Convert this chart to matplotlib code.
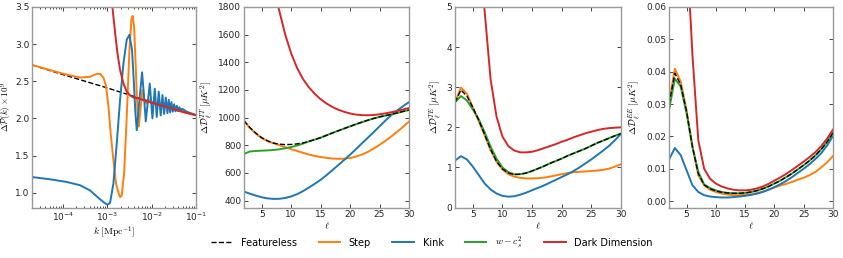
import numpy as np
import matplotlib
matplotlib.use("Agg")
import matplotlib.pyplot as plt

plt.rcParams['mathtext.fontset'] = 'cm'
plt.rcParams['font.family'] = ['DejaVu Sans']

# ---------------- Panel 1: primordial power spectrum ----------------
k_feat = [2e-5, 1e-4, 1e-3, 1e-2, 1e-1]
p_feat = [2.72, 2.59, 2.41, 2.22, 2.04]

k_step = [2e-5, 5.09e-5, 1.21e-4, 2.42e-4, 4.07e-4, 5.77e-4, 6.86e-4, 8.15e-4,
          9.35e-4, 1.06e-3, 1.19e-3, 1.37e-3, 1.57e-3, 1.81e-3, 1.95e-3, 2.11e-3,
          2.39e-3, 2.74e-3, 3.15e-3, 3.49e-3, 3.74e-3, 4.01e-3, 4.37e-3, 4.77e-3,
          5.12e-3, 5.58e-3, 6.2e-3, 6.87e-3, 7.6e-3, 8.5e-3, 1e-2, 3e-2, 1e-1]
p_step = [2.72, 2.65, 2.59, 2.55, 2.56, 2.60, 2.60, 2.55,
          2.44, 2.16, 1.80, 1.44, 1.12, 0.99, 0.94, 0.96,
          1.26, 2.02, 2.92, 3.33, 3.38, 3.24, 2.70, 2.11,
          1.89, 2.11, 2.38, 2.25, 2.20, 2.26, 2.22, 2.12, 2.04]

k_kink = [2e-5, 5.09e-5, 1.21e-4, 2.42e-4, 4.07e-4, 6.28e-4, 8.15e-4, 1.0e-3,
          1.15e-3, 1.37e-3, 1.63e-3, 1.94e-3, 2.31e-3, 2.74e-3, 3.15e-3, 3.61e-3,
          4.01e-3, 4.30e-3, 4.61e-3, 5.30e-3, 6.08e-3, 6.64e-3, 7.36e-3, 8.2e-3,
          9.06e-3, 9.7e-3, 1.04e-2, 1.105e-2, 1.175e-2, 1.24e-2, 1.30e-2, 1.445e-2,
          1.60e-2, 1.75e-2, 1.91e-2, 2.08e-2, 2.27e-2, 2.43e-2, 2.61e-2, 2.79e-2,
          2.99e-2, 3.21e-2, 3.44e-2, 3.69e-2, 3.95e-2, 4.24e-2, 4.54e-2, 4.86e-2,
          6.19e-2, 1e-1]
p_kink = [1.21, 1.18, 1.144, 1.10, 1.03, 0.93, 0.874, 0.838,
          0.86, 1.12, 1.66, 2.25, 2.74, 3.06, 3.126, 2.92,
          2.43, 2.07, 1.84, 2.25, 2.62, 2.34, 1.96, 2.22,
          2.47, 2.24, 2.00, 2.20, 2.40, 2.21, 2.02, 2.36,
          2.04, 2.315, 2.06, 2.28, 2.07, 2.25, 2.08, 2.22,
          2.09, 2.19, 2.095, 2.17, 2.10, 2.15, 2.10, 2.13,
          2.09, 2.045]

k_dd = [9.68e-4, 1.15e-3, 1.30e-3, 1.50e-3, 1.69e-3, 1.94e-3, 2.31e-3, 2.74e-3,
        3.26e-3, 3.89e-3, 4.94e-3, 9.89e-3, 2.35e-2, 5.58e-2, 1e-1]
p_dd = [4.6, 3.9, 3.5, 3.15, 2.88, 2.65, 2.47, 2.36,
        2.31, 2.28, 2.27, 2.21, 2.15, 2.08, 2.045]

# ---------------- CMB panels ----------------
ell = list(range(2, 31))

tt_feat = [978, 928, 888, 855, 832, 816, 808, 805, 806, 810, 817, 828, 841, 855,
           872, 889, 905, 921, 937, 952, 967, 981, 994, 1006, 1015, 1024, 1034, 1045, 1055]
tt_step = [975, 925, 885, 852, 830, 815, 801, 786, 772, 759, 746, 733, 723, 715,
           709, 704, 702, 703, 708, 718, 733, 752, 776, 803, 832, 864, 898, 934, 971]
tt_kink = [465, 450, 436, 424, 416, 412, 413, 419, 430, 446, 468, 494, 521, 550,
           584, 620, 657, 694, 732, 772, 813, 854, 895, 937, 979, 1018, 1052, 1083, 1112]
tt_w = [738, 755, 759, 761, 763, 766, 771, 778, 787, 798, 812, 828, 841, 855,
        872, 889, 905, 921, 937, 952, 967, 981, 994, 1005, 1014, 1023, 1034, 1045, 1055]
tt_dd = [4500, 3600, 3000, 2500, 2150, 1950, 1770, 1600, 1465, 1360, 1280, 1220, 1172, 1133,
         1102, 1077, 1057, 1042, 1030, 1022, 1018, 1017, 1019, 1024, 1031, 1039, 1048, 1059, 1070]

te_feat = [2.62, 2.93, 2.78, 2.50, 2.18, 1.82, 1.45, 1.15, 0.96, 0.86, 0.82, 0.83, 0.86, 0.91,
           0.97, 1.03, 1.10, 1.16, 1.22, 1.29, 1.35, 1.41, 1.47, 1.54, 1.61, 1.67, 1.73, 1.79, 1.84]
te_step = [2.62, 2.99, 2.84, 2.50, 2.15, 1.80, 1.43, 1.14, 0.95, 0.83, 0.77, 0.74, 0.725, 0.725,
           0.73, 0.745, 0.77, 0.80, 0.83, 0.86, 0.88, 0.89, 0.90, 0.91, 0.92, 0.94, 0.97, 1.02, 1.08]
te_kink = [1.17, 1.28, 1.20, 1.02, 0.81, 0.60, 0.45, 0.35, 0.29, 0.27, 0.28, 0.32, 0.37, 0.43,
           0.49, 0.55, 0.62, 0.69, 0.76, 0.83, 0.91, 1.00, 1.10, 1.20, 1.31, 1.42, 1.54, 1.68, 1.84]
te_w = [2.62, 2.78, 2.67, 2.45, 2.20, 1.88, 1.52, 1.22, 1.00, 0.88, 0.83, 0.83, 0.86, 0.91,
        0.97, 1.03, 1.10, 1.16, 1.22, 1.29, 1.35, 1.41, 1.47, 1.54, 1.61, 1.67, 1.73, 1.79, 1.84]
te_dd = [30.0, 20.0, 14.0, 9.5, 7.0, 4.9, 3.2, 2.27, 1.77, 1.53, 1.42, 1.375, 1.375, 1.39,
         1.43, 1.48, 1.53, 1.58, 1.64, 1.69, 1.75, 1.80, 1.85, 1.89, 1.93, 1.96, 1.98, 1.99, 2.00]

ee_feat = [0.0300, 0.0395, 0.0360, 0.0277, 0.0168, 0.0085, 0.0050, 0.0038, 0.0031, 0.0027,
           0.0025, 0.0024, 0.0024, 0.0025, 0.0028, 0.0032, 0.0038, 0.0045, 0.0054, 0.0063,
           0.0074, 0.0085, 0.0098, 0.0111, 0.0125, 0.0141, 0.0160, 0.0183, 0.0211]
ee_step = [0.0302, 0.0409, 0.0369, 0.0281, 0.0168, 0.0080, 0.0049, 0.0035, 0.0028, 0.0023,
           0.0020, 0.0018, 0.0018, 0.0019, 0.0021, 0.0024, 0.0029, 0.0035, 0.0042, 0.0048,
           0.0053, 0.0059, 0.0066, 0.0072, 0.0080, 0.0090, 0.0104, 0.0120, 0.0139]
ee_kink = [0.0128, 0.0164, 0.0142, 0.0095, 0.0049, 0.0028, 0.0018, 0.0014, 0.0012, 0.0011,
           0.0011, 0.0012, 0.0014, 0.0016, 0.0019, 0.0023, 0.0028, 0.0035, 0.0043, 0.0052,
           0.0062, 0.0074, 0.0087, 0.0100, 0.0114, 0.0130, 0.0148, 0.0172, 0.0201]
ee_w = [0.0281, 0.0378, 0.0354, 0.0271, 0.0168, 0.0090, 0.0051, 0.0040, 0.0033, 0.0028,
        0.0025, 0.0024, 0.0024, 0.0025, 0.0028, 0.0032, 0.0038, 0.0045, 0.0054, 0.0063,
        0.0074, 0.0085, 0.0098, 0.0111, 0.0125, 0.0141, 0.0160, 0.0183, 0.0211]
ee_dd = [0.20, 0.15, 0.11, 0.080, 0.0452, 0.0188, 0.0100, 0.0069, 0.0054, 0.0045,
         0.0039, 0.0035, 0.0033, 0.0033, 0.0035, 0.0039, 0.0045, 0.0053, 0.0063, 0.0073,
         0.0084, 0.0096, 0.0109, 0.0122, 0.0136, 0.0151, 0.0170, 0.0193, 0.0221]

labels = ['Featureless', 'Step', 'Kink', r'$w-c_s^2$', 'Dark Dimension']
colors = ['black', '#ff7f0e', '#1f77b4', '#2ca02c', '#d62728']

W, H = 843, 258
fig = plt.figure(figsize=(W / 100, H / 100), dpi=100)

bottom = 1 - 207.5 / H
top = 1 - 7 / H
hgt = top - bottom
lefts = [32, 244, 455, 669]
widths = [164, 165, 166, 164]
axes = [fig.add_axes([l / W, bottom, w / W, hgt]) for l, w in zip(lefts, widths)]

lw = 1.4

def style(ax):
    ax.tick_params(direction='in', top=True, right=True, labelsize=6.5, length=3, width=0.6,
                   pad=2, colors='0.15')
    ax.tick_params(which='minor', direction='in', top=True, right=True, length=1.6, width=0.5)
    for s in ax.spines.values():
        s.set_color('0.6')
        s.set_linewidth(1.0)

# Panel 1
ax = axes[0]
ax.plot(k_feat, p_feat, '--', color=colors[0], lw=1.0, label=labels[0])
ax.plot(k_step, p_step, color=colors[1], lw=lw, label=labels[1])
ax.plot(k_kink, p_kink, color=colors[2], lw=lw, label=labels[2])
ax.plot(k_dd, p_dd, color=colors[4], lw=lw)
ax.set_xscale('log')
ax.set_xlim(2e-5, 1e-1)
ax.set_ylim(0.8, 3.5)
ax.set_yticks([1.0, 1.5, 2.0, 2.5, 3.0, 3.5])
ax.set_xlabel(r'$k\ [\mathrm{Mpc}^{-1}]$', fontsize=7, labelpad=1)
ax.set_ylabel(r'$\Delta\mathcal{P}(k)\times10^9$', fontsize=6.5, labelpad=0.5)
style(ax)

# CMB panels
cmb = [
    (axes[1], [tt_feat, tt_step, tt_kink, tt_w, tt_dd], (350, 1800), list(range(400, 1801, 200)),
     r'$\Delta\mathcal{D}_\ell^{TT}\ [\mu K^2]$', None),
    (axes[2], [te_feat, te_step, te_kink, te_w, te_dd], (0, 5), [0, 1, 2, 3, 4, 5],
     r'$\Delta\mathcal{D}_\ell^{TE}\ [\mu K^2]$', None),
    (axes[3], [ee_feat, ee_step, ee_kink, ee_w, ee_dd], (-0.002, 0.06),
     [0.00, 0.01, 0.02, 0.03, 0.04, 0.05, 0.06],
     r'$\Delta\mathcal{D}_\ell^{EE}\ [\mu K^2]$', '%.2f'),
]
for ax, series, ylim, yt, ylab, fmt in cmb:
    ax.plot(ell, series[1], color=colors[1], lw=lw, label=labels[1])
    ax.plot(ell, series[2], color=colors[2], lw=lw, label=labels[2])
    ax.plot(ell, series[3], color=colors[3], lw=lw, label=labels[3])
    ax.plot(ell, series[0], '--', color=colors[0], lw=1.0, label=labels[0])
    ax.plot(ell, series[4], color=colors[4], lw=lw, label=labels[4])
    ax.set_xlim(2, 30)
    ax.set_ylim(*ylim)
    ax.set_xticks([5, 10, 15, 20, 25, 30])
    ax.set_yticks(yt)
    if fmt:
        ax.set_yticklabels([fmt % v for v in yt])
    ax.set_xlabel(r'$\ell$', fontsize=7, labelpad=1)
    ax.set_ylabel(ylab, fontsize=7, labelpad=2)
    style(ax)

from matplotlib.lines import Line2D
handles = [Line2D([], [], color=colors[0], ls='--', lw=1.0)] + \
          [Line2D([], [], color=c, lw=lw) for c in colors[1:]]
fig.legend(handles, labels, loc='center', bbox_to_anchor=(432 / W, 1 - 243 / H), ncol=5,
           frameon=False, fontsize=7, handlelength=2.2, columnspacing=2.2, handletextpad=0.9)

fig.savefig('out.png', dpi=100)
